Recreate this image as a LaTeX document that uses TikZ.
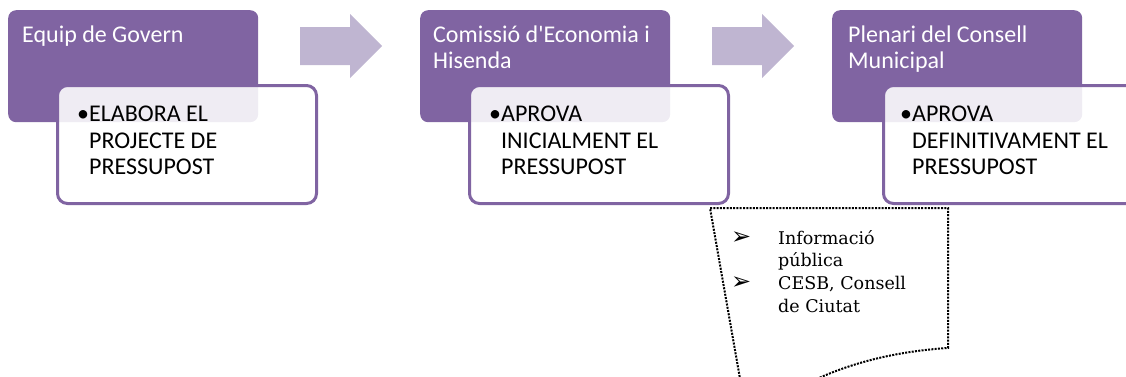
\documentclass[tikz,border=0pt]{standalone}
\usepackage{fontspec}
\setmainfont{Carlito}
\newfontfamily\notefont{DejaVu Serif}
\newfontfamily\tipfont{DejaVu Sans}
\definecolor{stagepurple}{HTML}{8064A2}
\definecolor{steplilac}{HTML}{BFB5D1}
\usetikzlibrary{positioning}

\begin{document}
\begin{tikzpicture}[x=1pt, y=-1pt,
            stage/.style = {fill=stagepurple, rounded corners=8pt, anchor=north west,
                            minimum width=250pt, minimum height=112pt, inner sep=0pt},
            task/.style = {draw=stagepurple, line width=3pt, fill=white, fill opacity=0.88,
                           rounded corners=10pt, anchor=north west,
                           minimum width=259pt, minimum height=118pt, inner sep=0pt},
            title/.style = {anchor=north west, inner sep=0pt, text=white, align=left,
                            font=\fontsize{24}{25.5}\selectfont},
            duty/.style = {anchor=north west, inner sep=0pt, font=\fontsize{24}{26.5}\selectfont},
            steparrow/.style = {fill=steplilac},
            notebox/.style = {draw=black, line width=2pt, dash pattern=on 2pt off 1.3pt},
            notetext/.style = {anchor=north west, inner sep=0pt, font=\notefont\fontsize{17.5}{22.7}\selectfont}
        ]
        \useasboundingbox (0,0) rectangle (1126,376);
        \clip (0,0) rectangle (1126,376);

        % stages
        \node[stage] (govern) at (8,10) {};
        \node[stage] (comissio) at (420,10) {};
        \node[stage] (plenari) at (832,10) {};
        \node[title] (governT) at ([shift={(14,16)}]govern.north west) {Equip de Govern};
        \node[title] (comissioT) at ([shift={(13,16)}]comissio.north west) {Comissió d\textquotesingle Economia i\\Hisenda};
        \node[title] (plenariT) at ([shift={(16,16)}]plenari.north west) {Plenari del Consell\\Municipal};

        % tasks
        \node[task] (elabora) at (56,84) {};
        \node[task] (inicial) at (468,84) {};
        \node[task] (definitiu) at (882,84) {};
        \node[duty] (elaboraT) at ([shift={(21,19)}]elabora.north west)
            {\begin{tabular}{@{}l@{}l@{}} •&ELABORA EL\\ &PROJECTE DE\\ &PRESSUPOST\end{tabular}};
        \node[duty] (inicialT) at ([shift={(21,19)}]inicial.north west)
            {\begin{tabular}{@{}l@{}l@{}} •&APROVA\\ &INICIALMENT EL\\ &PRESSUPOST\end{tabular}};
        \node[duty] (definitiuT) at ([shift={(18,19)}]definitiu.north west)
            {\begin{tabular}{@{}l@{}l@{}} •&APROVA\\ &DEFINITIVAMENT EL\\ &PRESSUPOST\end{tabular}};

        % arrows between stages
        \coordinate (arrA) at (300,46);
        \coordinate (arrB) at (712,46);
        \foreach \a in {arrA, arrB}
            \fill[steparrow] (\a) ++(0,-19) -- ++(50,0) -- ++(0,-13) -- ++(32,32)
                -- ++(-32,32) -- ++(0,-13) -- ++(-50,0) -- cycle;

        % note under the second stage
        \draw[notebox] (742,390) -- (710,208) -- (948,208) -- (948,348)
            .. controls (900,351) and (845,362) .. (795,390);
        \node[notetext] (notes) at (731,228)
            {\begin{tabular}{@{}p{47pt}@{}l@{}}
             {\tipfont\fontsize{24}{19}\selectfont ➢}&Informació\\
             &pública\\
             {\tipfont\fontsize{24}{19}\selectfont ➢}&CESB, Consell\\
             &de Ciutat
             \end{tabular}};
\end{tikzpicture}
\end{document}
